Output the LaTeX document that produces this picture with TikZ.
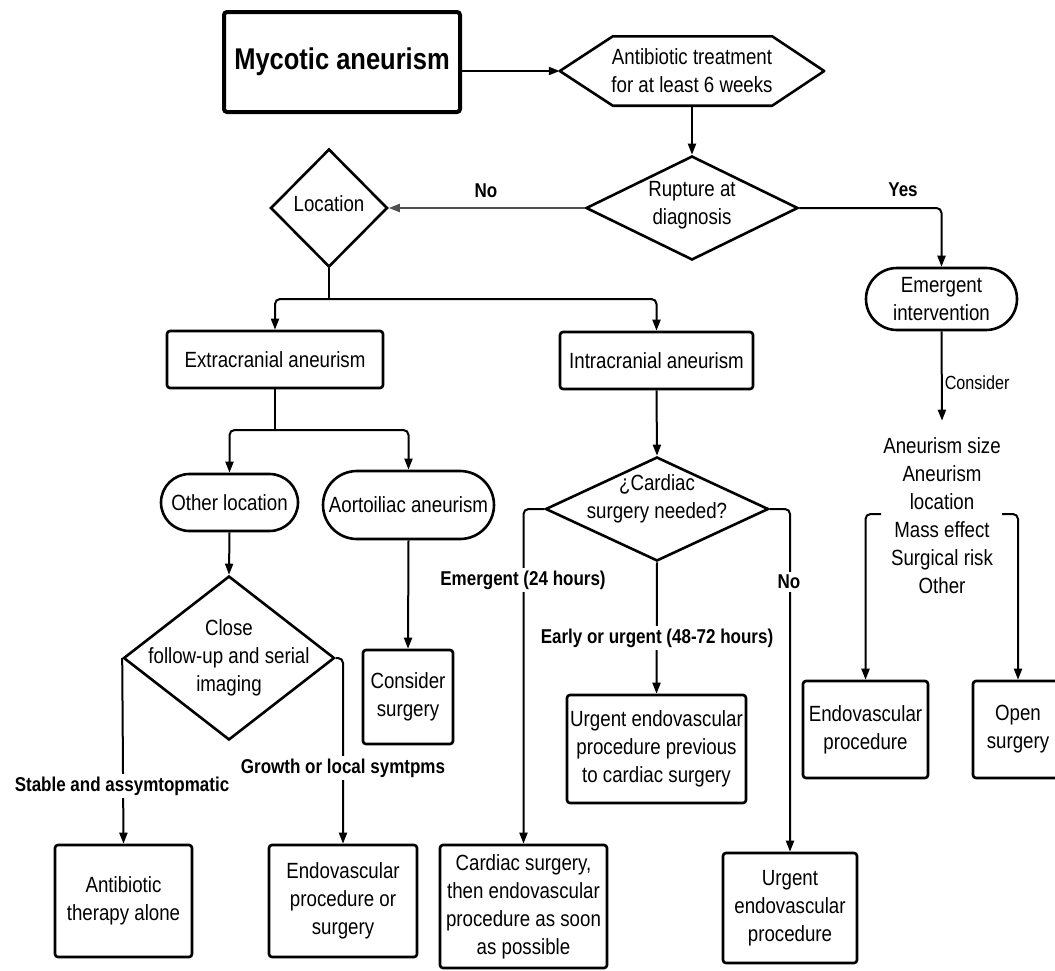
\documentclass[tikz,border=0pt]{standalone}
\usepackage{fontspec}
\setmainfont[FakeStretch=0.85]{Liberation Sans}
\usetikzlibrary{arrows.meta,shapes.geometric,shapes.misc}
\definecolor{nogray}{HTML}{505050}
\begin{document}
\begin{tikzpicture}[x=1pt,y=-1pt,
  base/.style={font=\fontsize{22}{28}\selectfont, align=center, inner sep=0pt},
  box/.style={base, draw, line width=2.6pt, rounded corners=3pt},
  pill/.style={base, rounded rectangle, draw, line width=2.6pt},
  dia/.style={diamond, draw, line width=2.6pt, inner sep=0pt},
  shapeline/.style={line width=2.6pt, line join=round},
  conn/.style={line width=2pt, rounded corners=5pt},
  arr/.style={conn, -{Triangle[length=11pt,width=8pt]}},
  lbl/.style={font=\bfseries\fontsize{20}{24}\selectfont, fill=white, inner sep=3pt},
  small/.style={font=\fontsize{19}{23}\selectfont, inner sep=2pt}
]
\useasboundingbox (0,0) rectangle (1055,970);
\clip (0,0) rectangle (1055,970);

% nodes
\node[box, line width=4pt, minimum width=236pt, minimum height=100pt,
      font=\bfseries\fontsize{30}{36}\selectfont] (title) at (342,62) {Mycotic aneurism};
\node[base, minimum width=264pt, minimum height=69pt] (hex) at (692,71)
      {Antibiotic treatment\\for at least 6 weeks};
\draw[shapeline] (hex.west) -- ([xshift=53pt]hex.north west) -- ([xshift=-52pt]hex.north east)
   -- (hex.east) -- ([xshift=-52pt]hex.south east) -- ([xshift=53pt]hex.south west) -- cycle;
\node[dia, minimum width=212pt, minimum height=104pt,
      label={[base,yshift=3pt]center:{Rupture at\\diagnosis}}] (rup) at (692,208) {};
\node[dia, minimum width=117pt, minimum height=118pt,
      label={[base,yshift=4pt]center:Location}] (loc) at (329,208) {};
\node[pill, minimum width=151pt, minimum height=62pt] (emerg) at (941.5,299) {Emergent\\intervention};
\node[box, minimum width=216pt, minimum height=57pt] (extra) at (275,359.5) {Extracranial aneurism};
\node[box, minimum width=193pt, minimum height=57pt] (intra) at (656.5,360.5) {Intracranial aneurism};
\node[pill, minimum width=137pt, minimum height=57pt] (other) at (229.5,502.5) {Other location};
\node[pill, minimum width=171pt, minimum height=68pt] (aorto) at (408.5,505) {Aortoiliac aneurism};
\node[dia, minimum width=211pt, minimum height=164pt,
      label={[base]center:{Close\\follow-up and serial\\imaging}}] (close) at (229,658) {};
\node[dia, minimum width=223pt, minimum height=104pt,
      label={[base,yshift=10pt]center:{¿Cardiac\\surgery needed?}}] (card) at (657,509) {};
\node[box, minimum width=90pt, minimum height=94pt] (consurg) at (408,697) {Consider\\surgery};
\node[box, minimum width=179pt, minimum height=108pt] (urgprev) at (656.5,749)
      {Urgent endovascular\\procedure previous\\to cardiac surgery};
\node[base, inner ysep=17pt] (factors) at (942,516)
      {Aneurism size\\Aneurism\\location\\Mass effect\\Surgical risk\\Other};
\node[box, minimum width=125pt, minimum height=97pt] (endo) at (865.5,729.5) {Endovascular\\procedure};
\node[box, minimum width=90pt, minimum height=97pt] (open) at (1018,729.5) {Open\\surgery};
\node[box, minimum width=137pt, minimum height=112pt] (antib) at (123.5,901) {Antibiotic\\therapy alone};
\node[box, minimum width=148pt, minimum height=112pt] (endosurg) at (343,901)
      {Endovascular\\procedure or\\surgery};
\node[box, minimum width=167pt, minimum height=123pt] (cardsurg) at (523.5,906.5)
      {Cardiac surgery,\\then endovascular\\procedure as soon\\as possible};
\node[box, minimum width=134pt, minimum height=110pt] (urgendo) at (790,908)
      {Urgent\\endovascular\\procedure};

% connectors
\draw[arr] (title.east |- hex.west) -- (hex.west);
\draw[arr] (hex.south) -- (rup.north);
\draw[arr, draw=nogray, fill=nogray] (rup.west) -- (loc.east);
\node[lbl, fill=none] (nolbl) at (486,191) {No};
\draw[arr] (rup.east) -| (emerg.north);
\node[lbl, fill=none] (yeslbl) at (903,190) {Yes};

\coordinate (j1) at (329,299);
\draw[conn] (loc.south) -- (j1);
\draw[arr] (j1) -| (extra.north);
\draw[arr] (j1) -| (intra.north);

\coordinate (j2) at (275,430);
\draw[conn] (extra.south) -- (j2);
\draw[arr] (j2) -| (other.north);
\draw[arr] (j2) -| (aorto.north);

\draw[arr] (other.south) -- (close.north);
\draw[arr] (aorto.south) -- (consurg.north);
\draw[arr] (close.west) -- (antib.north);
\draw[arr] (close.east) -| (endosurg.north);

\draw[arr] (intra.south) -- (card.north);
\draw[arr] (card.west) -| (cardsurg.north);
\draw[arr] (card.south) -- (urgprev.north);
\draw[arr] (card.east) -| (urgendo.north);

\draw[arr] (emerg.south) -- node[pos=0.57, right, small] (conslbl) {Consider} (factors.north);
\coordinate (bl) at (881,514);
\coordinate (br) at (1002,514);
\draw[arr] (bl) -| (endo.north);
\draw[arr] (br) -| (open.north);

% branch labels
\node[lbl] (l1) at (523,580) {Emergent (24 hours)};
\node[lbl] (l2) at (657,638) {Early or urgent (48-72 hours)};
\node[lbl] (l3) at (789,582) {No};
\node[lbl] (l4) at (122,786) {Stable and assymtopmatic};
\node[lbl] (l5) at (343,768) {Growth or local symtpms};
\end{tikzpicture}
\end{document}
